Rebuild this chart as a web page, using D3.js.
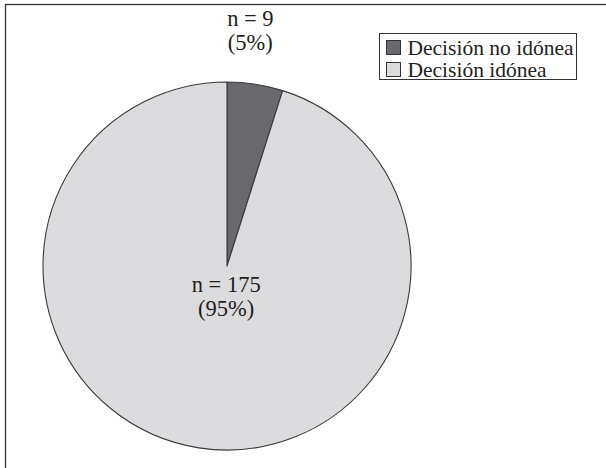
<!DOCTYPE html>
<html>
<head>
<meta charset="utf-8">
<script src="https://cdn.jsdelivr.net/npm/d3@7"></script>
<style>
  html, body { margin: 0; padding: 0; background: #fff; }
  svg { display: block; }
  text { font-family: "Liberation Serif", "Times New Roman", serif; fill: #231f20; }
</style>
</head>
<body>
<svg id="chart" width="606" height="468"></svg>
<script>
// Decision outcomes
const categories = ["Decisión no idónea", "Decisión idónea"];
const counts = [9, 175];
const percents = [5, 95];
const colors = ["#69696d", "#dcdcde"];

const svg = d3.select("#chart");

// Frame around the plot area
svg.append("rect")
  .attr("x", 5.5).attr("y", 4.5)
  .attr("width", 640).attr("height", 500)
  .attr("fill", "none")
  .attr("stroke", "#333")
  .attr("stroke-width", 1.3);

const cx = 227, cy = 266, R = 184;

const pie = d3.pie().sort(null).value(d => d)(counts);
const arc = d3.arc().innerRadius(0).outerRadius(R);

const g = svg.append("g").attr("transform", `translate(${cx},${cy})`);

g.selectAll("path.slice")
  .data(pie)
  .join("path")
  .attr("class", "slice")
  .attr("d", arc)
  .attr("fill", (d, i) => colors[i])
  .attr("stroke", "#3a3a3a")
  .attr("stroke-width", 1.1)
  .attr("stroke-linejoin", "round");

// Slice labels, placed along each slice's middle angle
const labelRadius = [231, 38];
const labelShift = [-12, 5];
const fs = 22.5;
pie.forEach((d, i) => {
  const a = (d.startAngle + d.endAngle) / 2;
  const r = labelRadius[i];
  const x = r * Math.sin(a) + labelShift[i];
  const y = -r * Math.cos(a);
  const t = g.append("text")
    .attr("text-anchor", "middle")
    .attr("font-size", fs);
  t.append("tspan").attr("x", x).attr("y", y - 12).text(`n = ${counts[i]}`);
  t.append("tspan").attr("x", x).attr("y", y + 12).text(`(${percents[i]}%)`);
});

// Legend
const lg = svg.append("g").attr("transform", "translate(379.5,33.5)");
lg.append("rect")
  .attr("width", 197).attr("height", 46)
  .attr("fill", "#fff")
  .attr("stroke", "#333")
  .attr("stroke-width", 1);
categories.forEach((c, i) => {
  const row = lg.append("g").attr("transform", `translate(7,${7 + i * 22})`);
  row.append("rect")
    .attr("width", 14).attr("height", 14)
    .attr("fill", colors[i])
    .attr("stroke", "#333")
    .attr("stroke-width", 1);
  row.append("text")
    .attr("x", 21).attr("y", 14)
    .attr("font-size", 21.5)
    .text(c);
});
</script>
</body>
</html>
